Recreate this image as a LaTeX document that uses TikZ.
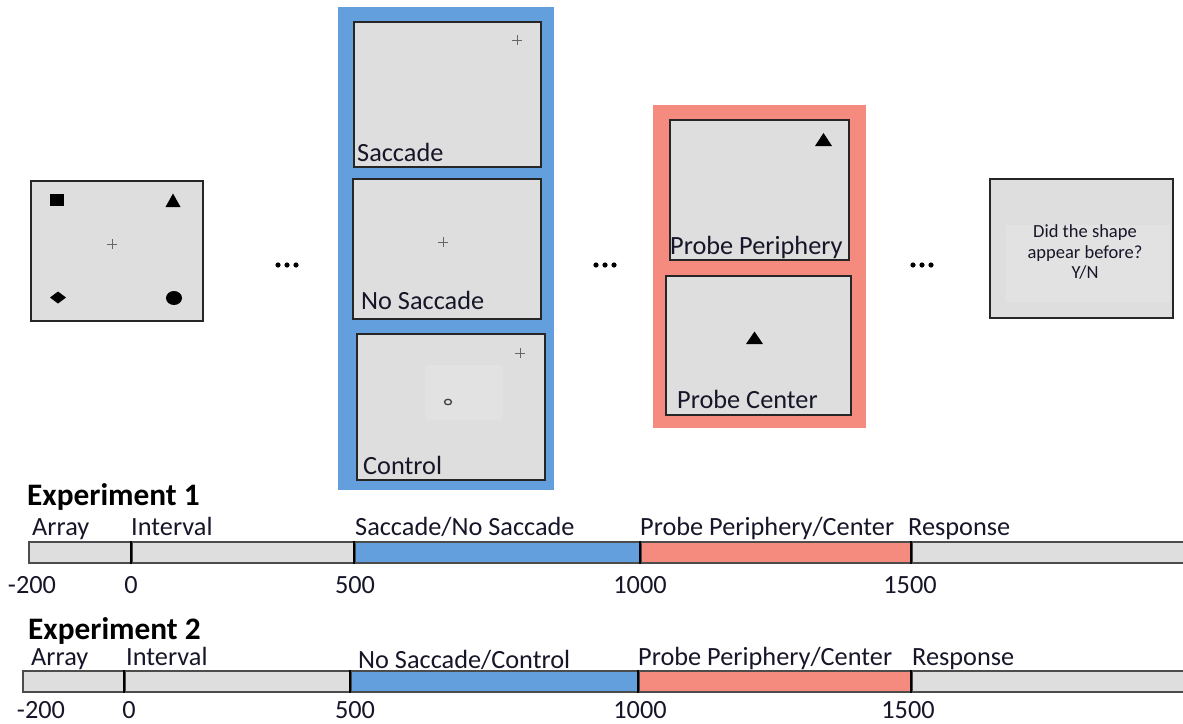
\documentclass[tikz,border=0pt]{standalone}
\usepackage{fontspec}
\setmainfont{Carlito}
\usetikzlibrary{shadows}
\definecolor{panelgray}{RGB}{222,222,222}
\definecolor{sblue}{RGB}{99,159,220}
\definecolor{sred}{RGB}{245,139,127}
\definecolor{txt}{RGB}{22,22,40}
\begin{document}
\begin{tikzpicture}[x=1pt,y=-1pt,
  panel/.style={draw=black!85, line width=1.6pt, fill=panelgray, inner sep=0pt, anchor=north west,
     drop shadow={shadow xshift=1.2pt, shadow yshift=-1.2pt, opacity=0.25}},
  framebox/.style={draw=none, inner sep=0pt, anchor=north west},
  lbl/.style={font=\fontsize{26.3}{31}\selectfont, text=txt, anchor=base west, inner sep=0pt},
  num/.style={font=\fontsize{26.3}{31}\selectfont, text=txt, anchor=base, inner sep=0pt},
  ttl/.style={font=\fontsize{31.3}{37}\selectfont\bfseries, text=black, anchor=base west, inner sep=0pt},
  seg/.style={draw=black!70, line width=1.5pt, inner sep=0pt, anchor=north west, minimum height=21pt},
  divider/.style={draw=black, line width=1.5pt},
  crossline/.style={draw=black!60, line width=0.8pt},
  fixcross/.pic={\draw[crossline] (-5,0)--(5,0) (0,-5)--(0,5);},
  dotsgap/.pic={\fill[black] (-9,0) circle (2.6) (0,0) circle (2.6) (9,0) circle (2.6);}
]
\useasboundingbox (0,0) rectangle (1183,723);
\clip (0,0) rectangle (1183,723);

% ---------- array panel ----------
\node[panel, minimum width=172pt, minimum height=140pt] (arr) at (30,180) {};
\fill[black] (50,194) rectangle (64,206);
\fill[black] (165.5,207) -- (180.5,207) -- (173,193.5) -- cycle;
\fill[black] (50,297.5) -- (58,291.5) -- (66,297.5) -- (58,303.5) -- cycle;
\fill[black] (174,298) ellipse (8 and 7);
\pic[draw=black!45] at (112,244) {fixcross};

\pic at (287,265) {dotsgap};
\pic at (605,265) {dotsgap};
\pic at (922,265) {dotsgap};

% ---------- blue frame ----------
\node[framebox, fill=sblue, minimum width=216pt, minimum height=483pt] (blue) at (338,7) {};
\node[panel, minimum width=187pt, minimum height=145pt] (sac) at (353,21) {};
\pic at (517,40) {fixcross};
\node[lbl] (saclbl) at (357,161) {Saccade};
\node[panel, minimum width=188pt, minimum height=140pt] (nosac) at (352,178) {};
\pic at (443,242) {fixcross};
\node[lbl] (nosaclbl) at (361,309) {No Saccade};
\node[panel, minimum width=188pt, minimum height=146pt] (ctrl) at (356,333) {};
\fill[rounded corners=4pt, fill=black!11.5] (425,365) rectangle (503,420);
\pic at (520,353) {fixcross};
\draw[black!75, line width=1.3pt] (448,402) ellipse (3.5 and 2.7);
\node[lbl] (ctrllbl) at (363,474) {Control};

% ---------- red frame ----------
\node[framebox, fill=sred, minimum width=213pt, minimum height=323pt] (red) at (653,105) {};
\node[panel, minimum width=179pt, minimum height=140pt] (peri) at (669,119) {};
\fill[black] (815,146) -- (832,146) -- (823.5,133) -- cycle;
\node[lbl] (perilbl) at (670,254) {Probe Periphery};
\node[panel, minimum width=185pt, minimum height=139pt] (cent) at (665,275) {};
\fill[black] (746,344) -- (763,344) -- (754.5,331.5) -- cycle;
\node[lbl] (centlbl) at (677,408) {Probe Center};

% ---------- response panel ----------
\node[panel, minimum width=183pt, minimum height=139pt] (resp) at (989,178) {};
\filldraw[fill=black!11.5, draw=black!13, line width=0.4pt] (1005,224) rectangle (1170,302);
\node[font=\fontsize{18.5}{20.5}\selectfont, text=txt, align=center, inner sep=0pt, anchor=center] (resptxt) at (1085,252) {Did the shape\\appear before?\\Y/N};

% ---------- Experiment 1 ----------
\node[ttl] (exp1) at (27,505) {Experiment 1};
\node[seg, fill=panelgray, minimum width=103pt] (a1) at (28,541) {};
\node[seg, fill=panelgray, minimum width=223pt] (i1) at (131,541) {};
\node[seg, fill=sblue, minimum width=286pt] (s1) at (354,541) {};
\node[seg, fill=sred, minimum width=271pt] (p1) at (640,541) {};
\node[seg, fill=panelgray, minimum width=290pt] (r1) at (911,541) {};
\draw[divider] (i1.north west) -- (i1.south west);
\draw[divider] (s1.north west) -- (s1.south west);
\draw[divider] (p1.north west) -- (p1.south west);
\draw[divider] (r1.north west) -- (r1.south west);
\node[lbl] (a1l) at (32,535) {Array};
\node[lbl] (i1l) at (131,535) {Interval};
\node[lbl] (s1l) at (355,535) {Saccade/No Saccade};
\node[lbl] (p1l) at (640,535) {Probe Periphery/Center};
\node[lbl] (r1l) at (908,535) {Response};
\node[num] (n1a) at (32,593) {-200};
\node[num] (n1b) at (131,593) {0};
\node[num] (n1c) at (355,593) {500};
\node[num] (n1d) at (640,593) {1000};
\node[num] (n1e) at (910,593) {1500};

% ---------- Experiment 2 ----------
\node[ttl] (exp2) at (28,639) {Experiment 2};
\node[seg, fill=panelgray, minimum width=102pt] (a2) at (22,670) {};
\node[seg, fill=panelgray, minimum width=226pt] (i2) at (124,670) {};
\node[seg, fill=sblue, minimum width=288pt] (s2) at (350,670) {};
\node[seg, fill=sred, minimum width=273pt] (p2) at (638,670) {};
\node[seg, fill=panelgray, minimum width=290pt] (r2) at (911,670) {};
\draw[divider] (i2.north west) -- (i2.south west);
\draw[divider] (s2.north west) -- (s2.south west);
\draw[divider] (p2.north west) -- (p2.south west);
\draw[divider] (r2.north west) -- (r2.south west);
\node[lbl] (a2l) at (31,665) {Array};
\node[lbl] (i2l) at (126,665) {Interval};
\node[lbl] (s2l) at (358,668) {No Saccade/Control};
\node[lbl] (p2l) at (638,665) {Probe Periphery/Center};
\node[lbl] (r2l) at (912,665) {Response};
\node[num] (n2a) at (41,718) {-200};
\node[num] (n2b) at (129,718) {0};
\node[num] (n2c) at (355,718) {500};
\node[num] (n2d) at (640,718) {1000};
\node[num] (n2e) at (908,718) {1500};
\end{tikzpicture}
\end{document}
